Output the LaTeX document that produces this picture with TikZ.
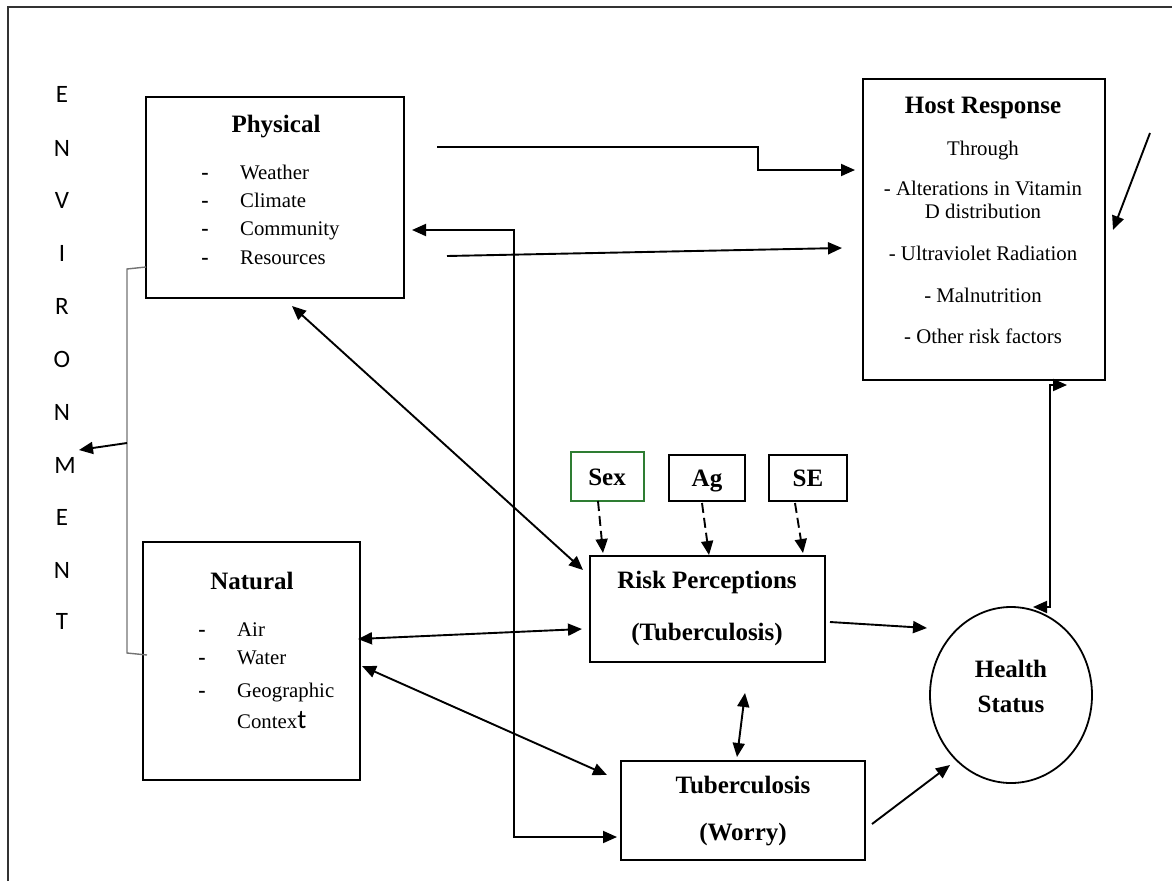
\documentclass[tikz,border=0pt]{standalone}
\usepackage{fontspec}
\setmainfont{Liberation Serif}
\newfontfamily\envfont{Carlito}
\usetikzlibrary{arrows.meta,shapes.geometric}
\definecolor{sexgreen}{RGB}{46,125,50}
\tikzset{
  tip/.style={},
  box/.style={draw, line width=2pt, rectangle, inner sep=0pt},
  conn/.style={line width=1.9pt, -{Triangle[length=14pt,width=12pt]}},
  bconn/.style={line width=1.9pt, {Triangle[length=14pt,width=12pt]}-{Triangle[length=14pt,width=12pt]}},
  dconn/.style={line width=1.9pt, dash pattern=on 10pt off 5pt, -{Triangle[length=14pt,width=12pt]}},
  ttl/.style={inner sep=0pt, anchor=base, font=\fontsize{25}{27}\selectfont\bfseries},
  body/.style={inner sep=0pt, anchor=base, font=\fontsize{20.8}{22}\selectfont},
  bodyl/.style={inner sep=0pt, anchor=base west, font=\fontsize{20.8}{22}\selectfont},
  dsh/.style={inner sep=0pt, anchor=base, font=\fontsize{22}{22}\selectfont\bfseries},
  envl/.style={inner sep=0pt, anchor=center, font=\envfont\fontsize{25}{26}\selectfont},
}
\begin{document}
\begin{tikzpicture}[x=1pt,y=-1pt]
\useasboundingbox (0,0) rectangle (1172,881);
% frame
\coordinate (fbl) at (8,881);
\coordinate (ftl) at (8,7);
\coordinate (ftr) at (1172,7);
\draw[line width=1.2pt, black!80] (fbl) -- (ftl) -- (ftr);

% ENVIRONMENT letters
\node[envl] (e1) at (62,94) {E};
\node[envl] (e2) at (62,148) {N};
\node[envl] (e3) at (62,200) {V};
\node[envl] (e4) at (62,253) {I};
\node[envl] (e5) at (62,306) {R};
\node[envl] (e6) at (62,359) {O};
\node[envl] (e7) at (62,412) {N};
\node[envl] (e8) at (65,465) {M};
\node[envl] (e9) at (62,517) {E};
\node[envl] (e10) at (62,570) {N};
\node[envl] (e11) at (62,621) {T};

% boxes
\node[box, minimum width=258pt, minimum height=201pt] (phys) at (275,197.5) {};
\node[box, minimum width=217pt, minimum height=238pt] (nat) at (251.5,661) {};
\node[box, minimum width=242pt, minimum height=301pt] (host) at (984,229.5) {};
\node[box, minimum width=235pt, minimum height=106pt] (risk) at (707.5,609) {};
\node[box, minimum width=244pt, minimum height=99pt] (tb) at (743,810.5) {};
\node[box, draw=sexgreen, line width=1.6pt, minimum width=73pt, minimum height=49pt] (sex) at (607.5,476.5) {};
\node[box, minimum width=76pt, minimum height=46pt] (ag) at (707,478) {};
\node[box, minimum width=78pt, minimum height=46pt] (se) at (808,478) {};
\node[draw, ellipse, line width=1.8pt, inner sep=0pt, minimum width=162pt, minimum height=176pt] (health) at (1011,695) {};

% Physical text
\node[ttl] (physT) at (276,132) {Physical};
\node[dsh] (pd1) at (205,179) {-};
\node[dsh] (pd2) at (205,207) {-};
\node[dsh] (pd3) at (205,235.5) {-};
\node[dsh] (pd4) at (205,264) {-};
\node[bodyl] (p1) at (240,179) {Weather};
\node[bodyl] (p2) at (240,207) {Climate};
\node[bodyl] (p3) at (240,235.5) {Community};
\node[bodyl] (p4) at (240,264) {Resources};

% Natural text
\node[ttl] (natT) at (252,589) {Natural};
\node[dsh] (nd1) at (202,636) {-};
\node[dsh] (nd2) at (202,664) {-};
\node[dsh] (nd3) at (202,697) {-};
\node[bodyl] (n1) at (237,636) {Air};
\node[bodyl] (n2) at (237,664) {Water};
\node[bodyl] (n3) at (237,697) {Geographic};
\node[bodyl] (n4) at (237,728) {Contex{\envfont\fontsize{27}{27}\selectfont t}};

% Host Response text
\node[ttl] (hostT) at (983,113) {Host Response};
\node[body] (h1) at (983,155) {Through};
\node[body] (h2) at (983,195) {- Alterations in Vitamin};
\node[body] (h3) at (983,218) {D distribution};
\node[body] (h4) at (983,260) {- Ultraviolet Radiation};
\node[body] (h5) at (983,302) {- Malnutrition};
\node[body] (h6) at (983,343) {- Other risk factors};

% Risk, TB, small boxes, health text
\node[ttl] (riskT1) at (707,588) {Risk Perceptions};
\node[ttl] (riskT2) at (707,640) {(Tuberculosis)};
\node[ttl] (tbT1) at (743,793) {Tuberculosis};
\node[ttl] (tbT2) at (743,840) {(Worry)};
\node[ttl] (sexT) at (607,485) {Sex};
\node[ttl] (agT) at (707,486) {Ag};
\node[ttl] (seT) at (808,486) {SE};
\node[ttl] (hT1) at (1011,677) {Health};
\node[ttl] (hT2) at (1011,712) {Status};

% bracket
\coordinate (brA) at (146,267);
\coordinate (brB) at (127,269);
\coordinate (brC) at (127,653);
\coordinate (brD) at (147,655);
\draw[line width=1.4pt, black!55] (brA) -- (brB) -- (brC) -- (brD);
\coordinate (brM) at (127,443);
\coordinate (envM) at (79,450);
\draw[conn] (brM) -- (envM);

% connectors
\coordinate (c1a) at (437,147);
\coordinate (c1b) at (758,147);
\coordinate (c1c) at (758,170);
\coordinate (c1d) at (855,170);
\draw[conn] (c1a) -- (c1b) -- (c1c) -- (c1d);

\coordinate (c2a) at (447,256);
\coordinate (c2b) at (842,248);
\draw[conn] (c2a) -- (c2b);

\coordinate (c3a) at (412,230);
\coordinate (c3b) at (514,230);
\coordinate (c3c) at (514,837);
\coordinate (c3d) at (617,837);
\draw[bconn] (c3a) -- (c3b) -- (c3c) -- (c3d);

\coordinate (c4a) at (292,306);
\coordinate (c4b) at (583,570);
\draw[bconn] (c4a) -- (c4b);

\coordinate (c5a) at (358,639);
\coordinate (c5b) at (582,629);
\draw[bconn] (c5a) -- (c5b);

\coordinate (c6a) at (362,666);
\coordinate (c6b) at (607,775);
\draw[bconn] (c6a) -- (c6b);

\coordinate (c7a) at (745,693);
\coordinate (c7b) at (737,757);
\draw[bconn] (c7a) -- (c7b);

\coordinate (c8a) at (830,622);
\coordinate (c8b) at (927,628);
\draw[conn] (c8a) -- (c8b);

\coordinate (c9a) at (872,824);
\coordinate (c9b) at (950,765);
\draw[conn] (c9a) -- (c9b);

\coordinate (c10a) at (1033,607);
\coordinate (c10b) at (1050,607);
\coordinate (c10c) at (1050,385);
\coordinate (c10d) at (1067,385);
\draw[bconn] (c10a) -- (c10b) -- (c10c) -- (c10d);

\coordinate (c11a) at (1150,133);
\coordinate (c11b) at (1113,230);
\draw[conn] (c11a) -- (c11b);

% dashed arrows
\coordinate (d1a) at (598,501);
\coordinate (d1b) at (603,553);
\draw[dconn] (d1a) -- (d1b);
\coordinate (d2a) at (702,503);
\coordinate (d2b) at (709,555);
\draw[dconn] (d2a) -- (d2b);
\coordinate (d3a) at (795,503);
\coordinate (d3b) at (803,553);
\draw[dconn] (d3a) -- (d3b);
\end{tikzpicture}
\end{document}
